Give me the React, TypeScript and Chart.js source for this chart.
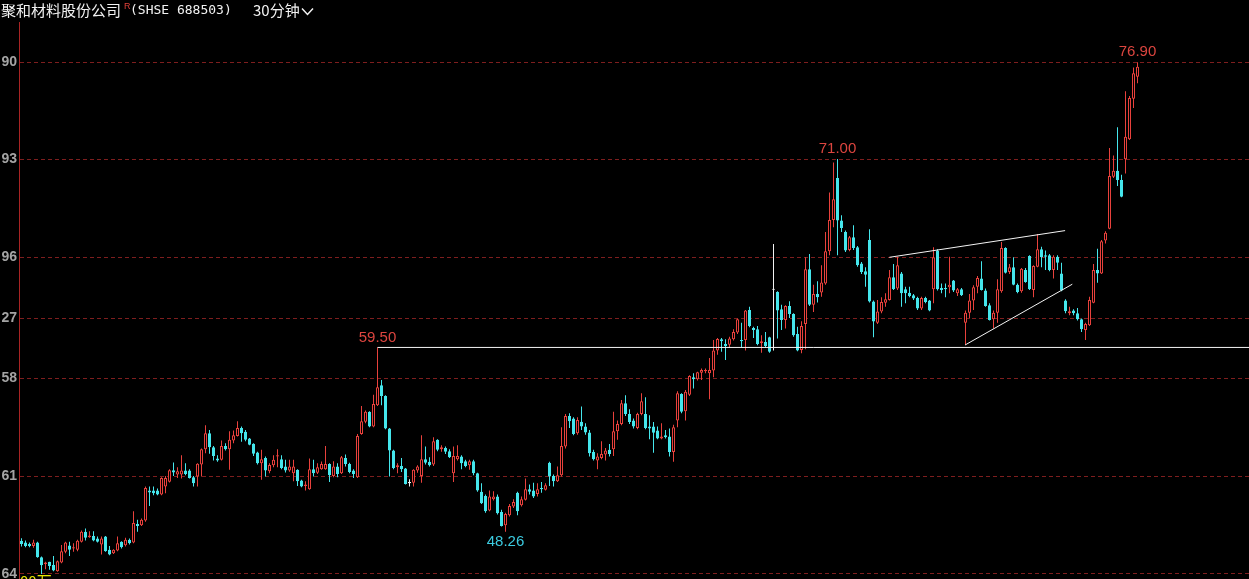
import React, { useEffect, useRef } from 'react';
import { Chart, registerables } from 'chart.js';

Chart.register(...registerables);

// ---- OHLC values (one candle per 30 minutes) ----
const opens = [
  47.70, 47.60, 47.51, 47.39, 47.60, 46.70, 46.29, 46.42, 46.23, 45.85,
  46.37, 47.03, 47.41, 47.23, 47.15, 47.64, 48.25, 47.92, 48.00, 47.84,
  47.47, 47.96, 47.15, 46.94, 47.11, 47.64, 47.43, 47.76, 47.60, 48.73,
  48.65, 48.94, 50.77, 50.77, 50.77, 50.52, 51.01, 51.30, 52.01, 51.74,
  51.74, 51.99, 51.99, 51.58, 51.62, 52.35, 53.29, 54.27, 53.41, 52.72,
  52.64, 53.49, 53.29, 53.82, 54.10, 54.59, 54.35, 53.94, 53.62, 53.09,
  52.44, 52.76, 51.95, 52.31, 52.84, 52.68, 52.23, 51.99, 51.83, 52.03,
  51.38, 51.05, 50.85, 52.07, 51.86, 52.07, 52.07, 52.39, 51.66, 52.23,
  51.82, 52.76, 52.39, 51.99, 51.58, 54.22, 54.96, 55.57, 54.67, 55.97,
  57.19, 56.54, 54.55, 53.21, 52.19, 52.27, 52.11, 51.25, 51.25, 51.99,
  51.66, 52.68, 52.52, 52.35, 53.86, 53.29, 53.37, 53.17, 51.82, 52.68,
  52.84, 52.56, 52.31, 52.56, 51.82, 50.69, 50.44, 49.55, 50.24, 50.40,
  49.46, 48.65, 49.26, 49.79, 50.64, 49.87, 50.20, 50.85, 50.77, 50.56,
  50.93, 50.81, 52.47, 51.66, 51.34, 51.70, 53.45, 55.32, 55.16, 54.26,
  54.96, 54.67, 54.31, 53.12, 52.60, 52.76, 52.96, 53.25, 53.29, 54.39,
  54.83, 56.09, 55.44, 55.04, 54.59, 55.44, 55.44, 54.67, 54.67, 54.43,
  53.94, 54.14, 54.06, 53.12, 55.04, 56.66, 55.61, 56.62, 57.68, 57.56,
  57.96, 58.05, 57.92, 58.09, 59.31, 60.00, 59.71, 59.67, 60.00, 60.41,
  59.96, 59.96, 61.79, 60.69, 60.61, 59.75, 59.84, 60.12, 63.05, 62.89,
  61.83, 61.18, 62.03, 61.54, 60.32, 59.35, 60.93, 64.27, 62.11, 62.76,
  62.85, 63.41, 65.37, 67.28, 69.84, 67.24, 66.55, 65.45, 66.22, 65.61,
  64.63, 64.15, 66.06, 62.30, 61.01, 61.69, 62.23, 62.40, 63.78, 63.09,
  64.02, 63.05, 62.84, 62.68, 62.52, 61.87, 62.52, 62.36, 63.05, 65.41,
  63.13, 63.13, 63.17, 63.58, 62.80, 63.05, 61.01, 61.62, 62.36, 63.21,
  63.70, 62.97, 62.07, 61.22, 61.62, 62.93, 65.57, 64.11, 64.39, 63.33,
  62.93, 64.23, 65.08, 63.01, 64.43, 65.49, 65.12, 65.12, 64.23, 65.04,
  64.02, 62.36, 61.58, 61.75, 61.58, 61.22, 60.57, 60.85, 62.23, 64.23,
  64.02, 66.02, 66.75, 69.92, 70.29, 69.72, 70.98, 72.20, 74.68, 76.02,
];

const highs = [
  47.86, 47.72, 47.60, 47.76, 47.64, 46.74, 46.42, 46.42, 46.78, 46.50,
  47.45, 47.64, 47.64, 47.55, 47.76, 48.33, 48.45, 48.29, 48.29, 47.96,
  47.96, 48.00, 47.39, 47.19, 47.96, 47.68, 47.88, 47.84, 49.51, 48.98,
  49.06, 51.01, 51.01, 51.01, 50.89, 51.58, 51.66, 52.07, 52.48, 52.19,
  52.92, 52.44, 52.07, 51.66, 52.44, 53.33, 54.75, 54.47, 53.49, 52.92,
  53.82, 53.66, 54.39, 54.43, 55.00, 54.67, 54.47, 53.98, 53.66, 53.13,
  53.25, 52.84, 52.44, 52.92, 53.29, 52.92, 52.64, 52.64, 52.64, 52.07,
  51.42, 51.34, 52.72, 52.64, 52.43, 52.54, 53.49, 52.43, 52.56, 52.43,
  52.88, 52.96, 52.47, 52.07, 54.22, 55.93, 55.65, 55.61, 56.62, 59.50,
  57.52, 56.58, 54.59, 53.25, 52.43, 52.76, 52.15, 51.46, 52.07, 52.31,
  54.14, 53.45, 52.80, 54.02, 53.90, 53.53, 53.45, 53.29, 53.45, 53.53,
  52.92, 52.64, 52.64, 52.64, 51.86, 51.21, 50.52, 50.77, 50.73, 50.52,
  49.59, 49.42, 49.95, 50.24, 50.69, 50.40, 51.50, 51.13, 51.25, 51.21,
  51.29, 51.21, 52.52, 51.74, 52.23, 54.63, 55.44, 55.48, 55.24, 55.24,
  55.89, 54.87, 54.47, 53.25, 53.04, 53.78, 53.37, 53.61, 55.57, 55.04,
  56.30, 56.58, 55.73, 55.16, 55.52, 56.70, 56.46, 55.36, 54.95, 54.67,
  54.87, 54.47, 54.55, 54.79, 56.83, 56.70, 56.91, 57.80, 57.92, 58.01,
  58.21, 58.21, 58.86, 59.96, 60.08, 60.08, 60.00, 60.16, 60.61, 61.26,
  61.01, 61.79, 61.99, 60.77, 60.81, 60.24, 60.45, 60.16, 65.81, 62.93,
  62.11, 62.07, 62.32, 61.58, 60.77, 61.10, 65.00, 65.20, 63.33, 63.54,
  64.51, 66.55, 68.95, 70.78, 71.00, 67.56, 66.63, 66.30, 66.95, 65.69,
  64.72, 64.39, 66.71, 62.36, 62.40, 62.56, 62.80, 64.23, 64.59, 65.04,
  64.11, 63.21, 63.21, 62.76, 62.60, 62.60, 62.60, 62.40, 65.61, 65.49,
  63.41, 63.41, 65.04, 63.62, 63.13, 63.13, 61.75, 62.76, 63.29, 63.86,
  64.76, 63.09, 62.19, 61.75, 63.66, 65.94, 65.61, 64.59, 65.00, 63.41,
  64.35, 64.35, 65.12, 64.51, 66.42, 65.65, 65.41, 65.20, 65.12, 65.12,
  64.67, 62.44, 61.99, 61.83, 61.91, 61.26, 61.01, 62.60, 64.59, 65.53,
  66.06, 66.59, 71.67, 71.22, 72.93, 70.04, 75.13, 74.84, 76.59, 76.90,
];

const lows = [
  47.35, 47.31, 47.31, 47.27, 46.66, 45.68, 45.97, 45.93, 45.85, 45.81,
  46.33, 46.94, 46.78, 47.03, 47.07, 47.60, 47.72, 47.88, 47.68, 47.60,
  46.86, 47.03, 46.82, 46.90, 47.07, 47.23, 47.35, 47.47, 47.55, 48.25,
  48.61, 48.86, 49.83, 50.48, 50.48, 50.48, 50.60, 51.26, 51.66, 51.54,
  51.50, 51.70, 51.50, 51.01, 51.01, 51.62, 53.05, 53.01, 52.60, 52.52,
  52.60, 53.21, 52.03, 53.66, 54.06, 53.74, 53.78, 53.53, 52.88, 52.35,
  51.42, 51.62, 51.83, 52.19, 52.19, 52.07, 51.87, 51.91, 51.34, 51.05,
  50.97, 50.77, 50.81, 51.62, 51.78, 52.03, 52.03, 51.29, 51.58, 51.58,
  51.78, 52.23, 51.82, 51.54, 51.54, 54.18, 54.87, 54.63, 54.63, 55.93,
  55.97, 54.51, 51.62, 52.07, 51.82, 51.90, 51.13, 51.01, 51.01, 51.86,
  51.25, 52.35, 52.23, 52.27, 53.17, 53.13, 53.00, 52.76, 51.29, 52.60,
  52.07, 52.19, 52.03, 51.70, 50.69, 49.95, 49.42, 49.50, 50.16, 49.30,
  48.57, 48.26, 49.18, 49.71, 49.26, 49.79, 50.16, 50.52, 50.32, 50.40,
  50.64, 50.77, 51.05, 51.01, 51.29, 51.62, 53.33, 54.59, 54.14, 54.18,
  54.47, 54.18, 52.84, 52.60, 52.07, 52.68, 52.60, 52.84, 52.88, 53.86,
  54.75, 55.32, 54.83, 54.55, 54.51, 55.36, 54.51, 53.90, 53.08, 53.90,
  53.90, 53.94, 52.84, 52.53, 54.63, 55.48, 55.04, 56.54, 56.99, 57.48,
  57.52, 57.92, 56.34, 57.68, 59.06, 59.23, 58.74, 59.47, 59.92, 60.32,
  59.51, 59.31, 60.73, 60.08, 59.63, 59.18, 59.51, 59.18, 59.31, 60.04,
  60.57, 60.65, 61.30, 60.16, 59.27, 59.14, 59.39, 62.03, 61.67, 62.24,
  62.60, 63.33, 65.12, 66.83, 65.12, 66.55, 65.33, 65.37, 65.45, 64.43,
  63.98, 63.21, 62.24, 60.12, 60.93, 61.58, 61.99, 62.36, 63.01, 63.01,
  61.99, 62.19, 62.56, 62.40, 61.79, 61.79, 62.19, 61.71, 62.19, 62.97,
  62.80, 62.56, 62.80, 62.89, 62.64, 62.64, 59.65, 61.26, 61.79, 62.80,
  62.97, 61.99, 61.14, 60.65, 61.01, 62.84, 64.02, 63.98, 63.29, 62.80,
  62.84, 63.45, 63.01, 62.56, 64.39, 64.39, 64.23, 64.15, 63.70, 64.23,
  62.93, 61.58, 61.46, 61.46, 61.14, 60.44, 59.96, 60.81, 62.19, 63.45,
  63.98, 65.85, 66.71, 69.84, 69.35, 68.66, 70.12, 72.16, 74.11, 75.62,
];

const closes = [
  47.51, 47.39, 47.39, 47.60, 46.70, 46.21, 46.37, 46.17, 45.89, 46.46,
  47.07, 47.60, 47.15, 47.31, 47.70, 48.25, 47.88, 48.02, 47.72, 47.64,
  47.84, 47.07, 46.86, 47.15, 47.55, 47.31, 47.76, 47.55, 48.78, 48.61,
  48.98, 50.93, 50.65, 50.60, 50.52, 51.54, 51.54, 52.01, 51.87, 51.95,
  51.99, 51.78, 51.54, 51.21, 52.40, 53.29, 54.27, 53.41, 52.88, 52.60,
  53.49, 53.29, 53.86, 54.14, 54.59, 54.27, 53.86, 53.57, 53.01, 52.44,
  52.68, 51.99, 52.33, 52.64, 52.92, 52.15, 51.99, 52.23, 52.23, 51.34,
  51.01, 51.13, 52.07, 51.82, 52.19, 52.39, 52.39, 51.70, 52.23, 51.78,
  52.80, 52.39, 51.90, 51.78, 54.10, 55.00, 55.57, 54.67, 56.05, 57.07,
  56.54, 54.55, 53.21, 52.15, 52.31, 52.07, 51.17, 51.25, 52.03, 52.23,
  52.68, 52.47, 52.31, 53.78, 53.25, 53.41, 53.13, 52.80, 52.88, 52.88,
  52.43, 52.27, 52.56, 51.82, 50.77, 49.99, 49.50, 50.40, 50.40, 49.38,
  48.61, 49.34, 49.83, 50.07, 49.50, 50.24, 50.85, 50.69, 50.40, 50.85,
  50.85, 51.09, 51.62, 51.34, 51.70, 53.49, 55.32, 55.00, 54.22, 55.08,
  54.67, 54.31, 53.04, 52.68, 52.84, 53.00, 53.21, 53.00, 54.39, 54.83,
  56.09, 55.44, 54.95, 54.67, 55.44, 56.22, 54.59, 54.55, 54.30, 53.94,
  54.06, 54.02, 53.12, 54.63, 56.70, 55.57, 56.79, 57.76, 57.56, 57.99,
  58.13, 58.13, 58.13, 59.31, 60.02, 59.88, 59.59, 60.04, 60.45, 61.22,
  59.88, 61.75, 60.81, 60.57, 59.71, 59.88, 59.59, 59.23, 63.05, 61.75,
  61.18, 62.03, 61.54, 60.24, 59.31, 60.81, 64.27, 62.11, 62.76, 62.56,
  63.46, 65.37, 67.28, 68.54, 67.24, 66.79, 65.41, 66.22, 65.57, 64.51,
  64.11, 63.94, 62.30, 61.08, 61.69, 62.28, 62.44, 63.78, 63.05, 64.51,
  62.80, 62.80, 62.64, 62.48, 61.87, 62.52, 62.28, 61.75, 65.00, 63.05,
  63.01, 63.05, 63.33, 62.97, 63.05, 62.68, 61.62, 62.36, 63.17, 63.74,
  63.01, 62.03, 61.18, 61.62, 63.05, 65.57, 64.06, 64.39, 63.33, 62.89,
  64.31, 63.50, 63.05, 64.47, 65.49, 65.00, 65.04, 64.23, 65.04, 64.67,
  62.97, 61.71, 61.71, 61.58, 61.22, 60.61, 60.93, 62.40, 64.23, 64.02,
  65.98, 66.50, 69.96, 70.29, 69.72, 68.70, 72.36, 74.72, 76.23, 76.63,
];

// ---- y axis: grid positions and the labels shown next to them ----
const yTickValues = [76.88, 70.98, 65.0, 61.28, 57.62, 51.64, 45.68];
const yTickLabels = ['90', '93', '96', '27', '58', '61', '64'];

// ---- extreme-value annotations ----
const markIndex = [279, 204, 89, 121];
const markText = ['76.90', '71.00', '59.50', '48.26'];
const markSide = ['high', 'high', 'high', 'low'];

// ---- drawn lines (candle index, price) ----
const supportX = [89, 306.875];
const supportY = [59.5, 59.5];
const upperX = [216.95, 260.9];
const upperY = [65.0, 66.63];
const lowerX = [235.9, 262.7];
const lowerY = [59.65, 63.36];

const UP = '#e8413c';
const DOWN = '#45e6ec';
const FLAT = '#f2f2f2';
const LABEL_RED = '#dc453f';
const LABEL_CYAN = '#3ccbe0';

const candleColor = (i: number) =>
  closes[i] > opens[i] ? UP : closes[i] < opens[i] ? DOWN : FLAT;

const markPlugin = {
  id: 'markLabels',
  afterDatasetsDraw(chart: any) {
    const { ctx } = chart;
    const xs = chart.scales.x;
    const ys = chart.scales.y;
    ctx.save();
    ctx.font = '15px "Liberation Sans", Arial, sans-serif';
    ctx.textAlign = 'center';
    ctx.textBaseline = 'middle';
    markIndex.forEach((idx, k) => {
      const high = markSide[k] === 'high';
      const v = high ? highs[idx] : lows[idx];
      const px = xs.getPixelForValue(idx);
      const py = ys.getPixelForValue(v) + (high ? -10 : 10);
      ctx.fillStyle = high ? LABEL_RED : LABEL_CYAN;
      ctx.fillText(markText[k], px, py);
    });
    ctx.restore();
  },
};

export default function App() {
  const ref = useRef<HTMLCanvasElement | null>(null);

  useEffect(() => {
    const canvas = ref.current;
    if (!canvas) return;
    const n = opens.length;
    const idx = Array.from({ length: n }, (_, i) => i);

    const bodyData = idx.map((i) => {
      const lo = Math.min(opens[i], closes[i]);
      const hi = Math.max(opens[i], closes[i]);
      const pad = hi - lo < 0.07 ? (0.07 - (hi - lo)) / 2 : 0;
      return { x: i, y: [lo - pad, hi + pad] };
    });
    const wickData = idx.map((i) => ({ x: i, y: [lows[i], highs[i]] }));
    const colors = idx.map(candleColor);
    const bodyFill = idx.map((i) => (closes[i] > opens[i] ? '#000000' : colors[i]));

    const lineDs = (xs: number[], ys: number[]) => ({
      type: 'line' as const,
      data: xs.map((x, k) => ({ x, y: ys[k] })),
      borderColor: '#f4f4f4',
      borderWidth: 1,
      pointRadius: 0,
      fill: false,
      tension: 0,
      order: 0,
    });

    const chart = new Chart(canvas, {
      type: 'bar',
      data: {
        datasets: [
          {
            type: 'bar',
            data: bodyData as any,
            backgroundColor: bodyFill,
            borderColor: colors,
            borderWidth: 1,
            borderSkipped: false,
            barThickness: 3,
            grouped: false,
            inflateAmount: 0,
            order: 1,
          } as any,
          {
            type: 'bar',
            data: wickData as any,
            backgroundColor: colors,
            borderWidth: 0,
            barThickness: 1,
            grouped: false,
            inflateAmount: 0,
            order: 2,
          } as any,
          lineDs(supportX, supportY) as any,
          lineDs(upperX, upperY) as any,
          lineDs(lowerX, lowerY) as any,
        ],
      },
      options: {
        animation: false,
        responsive: false,
        maintainAspectRatio: false,
        devicePixelRatio: 1,
        events: [],
        layout: { padding: { top: 22, left: 0, right: 0, bottom: 0 } },
        plugins: {
          legend: { display: false },
          tooltip: { enabled: false },
          title: { display: false },
        },
        scales: {
          x: {
            type: 'linear',
            min: -0.625,
            max: 306.875,
            display: false,
            offset: false,
            grid: { display: false },
          },
          y: {
            type: 'linear',
            position: 'left',
            min: 45.37,
            max: 79.36,
            afterFit: (s: any) => {
              s.width = 19;
              s.paddingTop = 0;
              s.paddingBottom = 0;
            },
            afterBuildTicks: (s: any) => {
              s.ticks = yTickValues.map((v) => ({ value: v }));
            },
            ticks: {
              autoSkip: false,
              padding: 2,
              color: '#a4a4a4',
              font: { family: '"Liberation Sans", Arial, sans-serif', size: 14, weight: 'bold' },
              callback: (_v: any, i: number) => yTickLabels[i],
            },
            grid: { color: '#7e1e1e', lineWidth: 1, drawTicks: false },
            border: { display: true, color: '#a82424', width: 1, dash: [4, 3] },
          },
        },
      } as any,
      plugins: [markPlugin],
    });
    return () => chart.destroy();
  }, []);

  const white = '#f2f2f2';
  return (
    <div
      style={{
        position: 'fixed',
        left: 0,
        top: 0,
        width: 1249,
        height: 579,
        background: '#000',
        overflow: 'hidden',
      }}
    >
      <canvas
        ref={ref}
        width={1249}
        height={579}
        style={{ position: 'absolute', left: 0, top: 0, width: 1249, height: 579 }}
      />
      <div
        style={{
          position: 'absolute',
          left: 1,
          top: -1,
          lineHeight: '21px',
          fontFamily: '"Noto Sans CJK SC", sans-serif',
          fontSize: 15,
          color: white,
          whiteSpace: 'nowrap',
        }}
      >
        聚和材料股份公司
      </div>
      <div
        style={{
          position: 'absolute',
          left: 124,
          top: 1,
          lineHeight: '10px',
          fontFamily: '"Liberation Sans", sans-serif',
          fontSize: 9,
          color: '#e0403a',
        }}
      >
        R
      </div>
      <div
        style={{
          position: 'absolute',
          left: 130,
          top: -1,
          lineHeight: '21px',
          fontFamily: '"DejaVu Sans Mono", monospace',
          fontSize: 13,
          color: white,
          whiteSpace: 'pre',
        }}
      >
        (SHSE 688503)
      </div>
      <div
        style={{
          position: 'absolute',
          left: 253,
          top: -1,
          lineHeight: '21px',
          fontFamily: '"Noto Sans CJK SC", sans-serif',
          fontSize: 15,
          color: white,
          whiteSpace: 'nowrap',
        }}
      >
        30分钟
      </div>
      <svg
        style={{ position: 'absolute', left: 301, top: 7 }}
        width={14}
        height={10}
      >
        <polyline points="1,1.5 6.5,7.5 12,1.5" fill="none" stroke={white} strokeWidth={1.5} />
      </svg>
      <div
        style={{
          position: 'absolute',
          left: 20,
          top: 570,
          lineHeight: '21px',
          fontFamily: '"Noto Sans CJK SC", sans-serif',
          fontSize: 15,
          color: '#e6e600',
          whiteSpace: 'nowrap',
        }}
      >
        00万
      </div>
    </div>
  );
}
